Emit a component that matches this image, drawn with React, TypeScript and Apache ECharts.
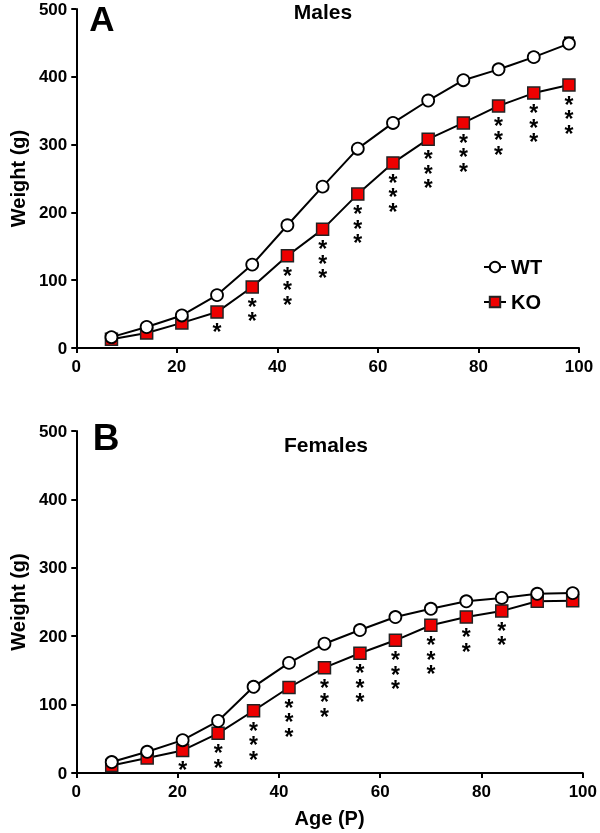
import React, { useEffect, useRef } from "react";
import * as echarts from "echarts";

const ages = [7, 14, 21, 28, 35, 42, 49, 56, 63, 70, 77, 84, 91, 98];
const wtMale = [16, 31, 48, 78, 123, 181, 238, 294, 332, 365, 395, 411, 429, 449];
const koMale = [13, 22, 37, 53, 90, 136, 175, 227, 273, 308, 332, 357, 376, 388];
const wtFemale = [16, 31, 48, 76, 126, 161, 189, 209, 228, 240, 251, 256, 262, 263];
const koFemale = [11, 22, 33, 58, 91, 125, 154, 175, 194, 216, 228, 237, 251, 252];
const wtMaleSem = [1, 1, 2, 2, 3, 4, 4, 4, 4, 5, 5, 5, 6, 9];
const starsMale = [0, 0, 0, 1, 2, 3, 3, 3, 3, 3, 3, 3, 3, 3];
const starsFemale = [0, 0, 1, 2, 3, 3, 3, 3, 3, 3, 2, 2, 0, 0];
const xTicks = { min: 0, max: 100, interval: 20 };
const yTicks = { min: 0, max: 500, interval: 100 };

const FONT = "'Liberation Sans', Arial, sans-serif";

function pairs(vals: number[]) {
  return ages.map((a, i) => [a, vals[i]]);
}

function starText(n: number) {
  return Array(n).fill("*").join("\n");
}

export default function App() {
  const ref = useRef<HTMLDivElement>(null);
  useEffect(() => {
    if (!ref.current) return;
    const chart = echarts.init(ref.current, null, { renderer: "svg" });
    const axisLine = { show: true, lineStyle: { color: "#000", width: 2 } };
    const axisTick = { show: true, inside: false, length: 5, lineStyle: { color: "#000", width: 2 } };
    const tickLabel = { color: "#000", fontSize: 17, fontWeight: "bold" as const, fontFamily: FONT };
    const mkX = (gi: number, name?: string) => ({
      type: "value",
      gridIndex: gi,
      ...xTicks,
      axisLine,
      axisTick,
      splitLine: { show: false },
      axisLabel: { ...tickLabel, margin: 10 },
      name: name || "",
      nameLocation: "middle",
      nameGap: 35,
      nameTextStyle: { color: "#000", fontSize: 20, fontWeight: "bold", fontFamily: FONT },
    });
    const mkY = (gi: number) => ({
      type: "value",
      gridIndex: gi,
      ...yTicks,
      axisLine,
      axisTick,
      splitLine: { show: false },
      axisLabel: { ...tickLabel, margin: 9 },
      name: "Weight (g)",
      nameLocation: "middle",
      nameGap: 47,
      nameTextStyle: { color: "#000", fontSize: 20, fontWeight: "bold", fontFamily: FONT },
    });
    const wtSeries = (gi: number, vals: number[]) => ({
      name: "WT",
      type: "line",
      xAxisIndex: gi,
      yAxisIndex: gi,
      data: pairs(vals),
      symbol: "circle",
      symbolSize: 12,
      lineStyle: { color: "#000", width: 2 },
      itemStyle: { color: "#fff", borderColor: "#000", borderWidth: 1.8 },
      z: 4,
    });
    const koSeries = (gi: number, vals: number[], stars: number[]) => ({
      name: "KO",
      type: "line",
      xAxisIndex: gi,
      yAxisIndex: gi,
      data: pairs(vals),
      symbol: "rect",
      symbolSize: 12,
      lineStyle: { color: "#000", width: 2 },
      itemStyle: { color: "#ee0000", borderColor: "#222", borderWidth: 1.5 },
      label: {
        show: true,
        position: "bottom",
        distance: 6,
        formatter: (p: any) => starText(stars[p.dataIndex]),
        color: "#000",
        fontSize: 23,
        fontWeight: "bold",
        lineHeight: 14.5,
        fontFamily: FONT,
      },
      z: 3,
    });
    const errSeries = {
      type: "custom",
      xAxisIndex: 0,
      yAxisIndex: 0,
      data: ages.map((a, i) => [a, wtMale[i], wtMale[i] + wtMaleSem[i]]),
      renderItem: (params: any, api: any) => {
        const lo = api.coord([api.value(0), api.value(1)]);
        const hi = api.coord([api.value(0), api.value(2)]);
        const w = 5;
        const st = { stroke: "#000", lineWidth: 2 };
        return {
          type: "group",
          children: [
            { type: "line", shape: { x1: lo[0], y1: lo[1], x2: hi[0], y2: hi[1] }, style: st },
            { type: "line", shape: { x1: hi[0] - w, y1: hi[1], x2: hi[0] + w, y2: hi[1] }, style: st },
          ],
        };
      },
      z: 2,
      silent: true,
    };
    chart.setOption({
      animation: false,
      grid: [
        { left: 68, top: 9, width: 511, height: 339 },
        { left: 70, top: 431, width: 513, height: 342 },
      ],
      xAxis: [mkX(0), mkX(1, "Age (P)")],
      yAxis: [mkY(0), mkY(1)],
      legend: {
        data: ["WT", "KO"],
        orient: "vertical",
        left: 478,
        top: 252,
        itemWidth: 22,
        itemHeight: 13,
        itemGap: 15,
        textStyle: { color: "#000", fontSize: 20, fontWeight: "bold", fontFamily: FONT },
      },
      graphic: [
        { type: "text", x: 102, y: 18, style: { text: "A", fontSize: 35, fontWeight: "bold", fontFamily: FONT, fill: "#000", align: "center", verticalAlign: "middle" } },
        { type: "text", x: 323, y: 11, style: { text: "Males", fontSize: 21, fontWeight: "bold", fontFamily: FONT, fill: "#000", align: "center", verticalAlign: "middle" } },
        { type: "text", x: 106, y: 437, style: { text: "B", fontSize: 37, fontWeight: "bold", fontFamily: FONT, fill: "#000", align: "center", verticalAlign: "middle" } },
        { type: "text", x: 326, y: 444, style: { text: "Females", fontSize: 21, fontWeight: "bold", fontFamily: FONT, fill: "#000", align: "center", verticalAlign: "middle" } },
      ],
      series: [
        errSeries,
        koSeries(0, koMale, starsMale),
        wtSeries(0, wtMale),
        koSeries(1, koFemale, starsFemale),
        wtSeries(1, wtFemale),
      ],
    });
    return () => chart.dispose();
  }, []);
  return <div ref={ref} style={{ position: "fixed", left: 0, top: 0, width: 600, height: 833 }} />;
}
